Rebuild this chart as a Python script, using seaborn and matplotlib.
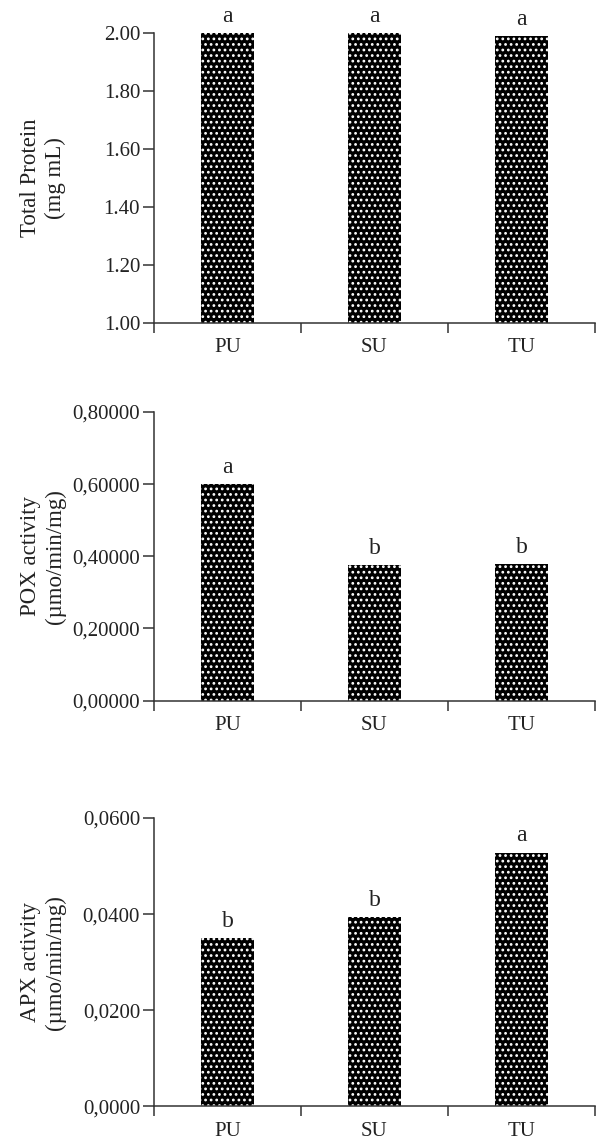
"""
Total protein, POX and APX activity for three groups (PU, SU, TU),
three stacked bar panels with significance letters.
"""

import matplotlib
matplotlib.use("Agg")
import matplotlib.pyplot as plt
from matplotlib.ticker import FuncFormatter
import numpy as np
import pandas as pd
import seaborn as sns

GROUPS = ["PU", "SU", "TU"]

PROTEIN = [2.00, 2.00, 1.99]
POX = [0.600, 0.375, 0.378]
APX = [0.0350, 0.0393, 0.0528]

PROTEIN_LETTERS = ["a", "a", "a"]
POX_LETTERS = ["a", "b", "b"]
APX_LETTERS = ["b", "b", "a"]

PROTEIN_LABEL = "Total Protein\n(mg mL)"
POX_LABEL = "POX activity\n(µmo/min/mg)"
APX_LABEL = "APX activity\n(µmo/min/mg)"

PROTEIN_TICKS = [1.0, 1.2, 1.4, 1.6, 1.8, 2.0]
POX_TICKS = [0.0, 0.2, 0.4, 0.6, 0.8]
APX_TICKS = [0.0, 0.02, 0.04, 0.06]

sns.set_theme(style="ticks")
plt.rcParams["font.family"] = ["Liberation Serif", "DejaVu Serif"]
plt.rcParams["hatch.linewidth"] = 1.2

AXIS_COLOR = "#333333"
TEXT_COLOR = "#222222"


def draw_panel(ax, values, letters, ylabel, yticks, fmt):
    df = pd.DataFrame({"group": GROUPS, "value": values})
    sns.barplot(
        data=df, x="group", y="value", ax=ax,
        color="black", saturation=1, width=0.36, errorbar=None,
        edgecolor="white", linewidth=0, hatch="...",
    )

    ax.set_ylim(yticks[0], yticks[-1])
    ax.set_yticks(yticks)
    ax.yaxis.set_major_formatter(FuncFormatter(fmt))
    ax.set_xlim(-0.5, len(GROUPS) - 0.5)

    # ticks between the categories, labels under them
    bounds = np.arange(len(GROUPS) + 1) - 0.5
    ax.set_xticks(bounds, labels=[""] * len(bounds))
    ax.set_xticks(range(len(GROUPS)), labels=GROUPS, minor=True)
    ax.tick_params(axis="x", which="major", length=7, width=1.1,
                   color=AXIS_COLOR, direction="out")
    ax.tick_params(axis="x", which="minor", length=0, pad=11,
                   labelsize=15, labelcolor=TEXT_COLOR)
    ax.tick_params(axis="y", length=8, width=1.1, pad=2, color=AXIS_COLOR,
                   labelsize=15, labelcolor=TEXT_COLOR, direction="out")

    sns.despine(ax=ax)
    for side in ("left", "bottom"):
        ax.spines[side].set_color(AXIS_COLOR)
        ax.spines[side].set_linewidth(1.1)

    ax.set_xlabel("")
    ax.set_ylabel(ylabel, fontsize=16.5, color=TEXT_COLOR, linespacing=1.2)
    ax.yaxis.set_label_coords(-0.20, 0.5)

    for i, (v, letter) in enumerate(zip(values, letters)):
        ax.annotate(letter, (i, v), xytext=(0, 8), textcoords="offset points",
                    ha="center", va="baseline", fontsize=17,
                    color=TEXT_COLOR, annotation_clip=False)


fig = plt.figure(figsize=(5.98, 11.4), dpi=100)
left, width = 0.2575, 0.7375
ax1 = fig.add_axes([left, 0.7167, width, 0.2544])
ax2 = fig.add_axes([left, 0.3855, width, 0.2531])
ax3 = fig.add_axes([left, 0.0294, width, 0.2531])

draw_panel(ax1, PROTEIN, PROTEIN_LETTERS, PROTEIN_LABEL, PROTEIN_TICKS,
           lambda v, _: f"{v:.2f}")
draw_panel(ax2, POX, POX_LETTERS, POX_LABEL, POX_TICKS,
           lambda v, _: f"{v:.5f}".replace(".", ","))
draw_panel(ax3, APX, APX_LETTERS, APX_LABEL, APX_TICKS,
           lambda v, _: f"{v:.4f}".replace(".", ","))

fig.savefig("out.png", dpi=100, facecolor="white")
plt.close(fig)
